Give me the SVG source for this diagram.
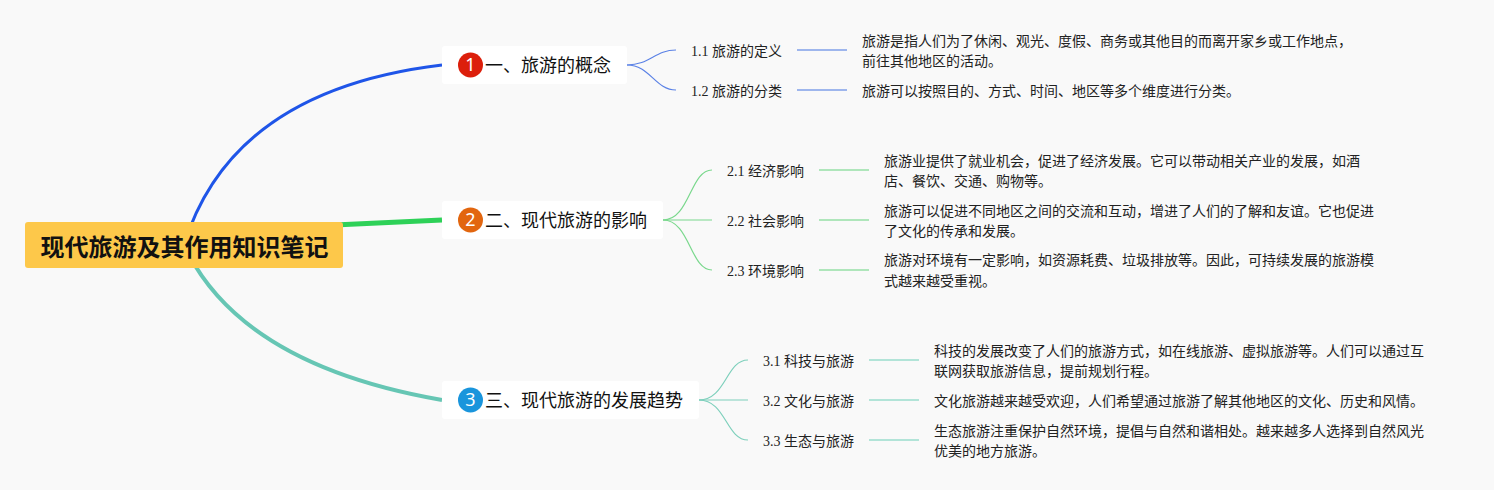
<svg xmlns="http://www.w3.org/2000/svg" width="1494" height="490" viewBox="0 0 1494 490">
<style>
text{font-family:"Liberation Serif","Noto Sans CJK SC",serif;fill:#222}
.root{font-family:"Noto Sans CJK SC",sans-serif;font-size:24px;font-weight:700;fill:#111}
.l1{font-family:"Noto Sans CJK SC",sans-serif;font-size:18px;fill:#111}
.num{font-family:"Noto Sans",sans-serif;font-size:18px;fill:#fff;text-anchor:middle}
.sub{font-size:14px}
.det{font-size:14px}
.box{fill:#fff}
path{fill:none}
.b{stroke:#5b82e6;stroke-width:1.2}.bl{stroke:#7f9fe8;stroke-width:1.6}
.g{stroke:#7ad88d;stroke-width:1.2}.gl{stroke:#96dfa6;stroke-width:1.6}
.t{stroke:#7ed0bc;stroke-width:1.2}.tl{stroke:#9adccc;stroke-width:1.6}
</style>
<rect width="1494" height="490" fill="#f9f9f9"/>
<g id="connectors">
<path d="M184 245Q232 90 442 65" stroke="#1f55e8" stroke-width="3"/>
<path d="M184 232L442 220" stroke="#2ed158" stroke-width="5"/>
<path d="M184 245Q240 365 442 400" stroke="#66c6b4" stroke-width="4"/>
<path class="b" d="M627 65C650 65 655 50 676 50"/><path class="b" d="M627 65C650 65 655 90 676 90"/>
<path class="bl" d="M797 50H847"/><path class="bl" d="M797 90H847"/>
<path class="g" d="M663 220C690 220 690 170 712 170"/><path class="g" d="M663 220H712"/><path class="g" d="M663 220C690 220 690 270 712 270"/>
<path class="gl" d="M819 170H869"/><path class="gl" d="M819 220H869"/><path class="gl" d="M819 270H869"/>
<path class="t" d="M699 400C726 400 726 360 748 360"/><path class="t" d="M699 400H748"/><path class="t" d="M699 400C726 400 726 440 748 440"/>
<path class="tl" d="M869 360H919"/><path class="tl" d="M869 400H919"/><path class="tl" d="M869 440H919"/>
</g>
<g id="root"><rect x="25" y="222" width="318" height="46" rx="3" fill="#fdc84a"/><text class="root" x="40.500" y="256">现代旅游及其作用知识笔记</text></g>
<g id="n1"><rect class="box" x="442" y="46" width="185" height="38" rx="3"/><circle cx="470.5" cy="65" r="12.5" fill="#dc1f0b"/><text class="num" x="470.5" y="71">1</text><text class="l1" x="485" y="72">一、旅游的概念</text></g>
<g id="n2"><rect class="box" x="442" y="201" width="221" height="38" rx="3"/><circle cx="470.5" cy="220" r="12.5" fill="#e2660f"/><text class="num" x="470.5" y="226">2</text><text class="l1" x="485" y="227">二、现代旅游的影响</text></g>
<g id="n3"><rect class="box" x="442" y="381" width="257" height="38" rx="3"/><circle cx="470.5" cy="400" r="12.5" fill="#1a95dc"/><text class="num" x="470.5" y="406">3</text><text class="l1" x="485" y="407">三、现代旅游的发展趋势</text></g>
<g id="n11"><text class="sub" x="691" y="56">1.1 旅游的定义</text></g>
<g id="n12"><text class="sub" x="691" y="96">1.2 旅游的分类</text></g>
<g id="n21"><text class="sub" x="727" y="176">2.1 经济影响</text></g>
<g id="n22"><text class="sub" x="727" y="226">2.2 社会影响</text></g>
<g id="n23"><text class="sub" x="727" y="276">2.3 环境影响</text></g>
<g id="n31"><text class="sub" x="763" y="366">3.1 科技与旅游</text></g>
<g id="n32"><text class="sub" x="763" y="406">3.2 文化与旅游</text></g>
<g id="n33"><text class="sub" x="763" y="446">3.3 生态与旅游</text></g>
<g id="d11"><text class="det" x="862" y="46">旅游是指人们为了休闲、观光、度假、商务或其他目的而离开家乡或工作地点，</text><text class="det" x="862" y="66">前往其他地区的活动。</text></g>
<g id="d12"><text class="det" x="862" y="96">旅游可以按照目的、方式、时间、地区等多个维度进行分类。</text></g>
<g id="d21"><text class="det" x="884" y="166">旅游业提供了就业机会，促进了经济发展。它可以带动相关产业的发展，如酒</text><text class="det" x="884" y="186">店、餐饮、交通、购物等。</text></g>
<g id="d22"><text class="det" x="884" y="216">旅游可以促进不同地区之间的交流和互动，增进了人们的了解和友谊。它也促进</text><text class="det" x="884" y="236">了文化的传承和发展。</text></g>
<g id="d23"><text class="det" x="884" y="265">旅游对环境有一定影响，如资源耗费、垃圾排放等。因此，可持续发展的旅游模</text><text class="det" x="884" y="286">式越来越受重视。</text></g>
<g id="d31"><text class="det" x="934" y="356">科技的发展改变了人们的旅游方式，如在线旅游、虚拟旅游等。人们可以通过互</text><text class="det" x="934" y="376">联网获取旅游信息，提前规划行程。</text></g>
<g id="d32"><text class="det" x="934" y="406">文化旅游越来越受欢迎，人们希望通过旅游了解其他地区的文化、历史和风情。</text></g>
<g id="d33"><text class="det" x="934" y="436">生态旅游注重保护自然环境，提倡与自然和谐相处。越来越多人选择到自然风光</text><text class="det" x="934" y="456">优美的地方旅游。</text></g>
</svg>
